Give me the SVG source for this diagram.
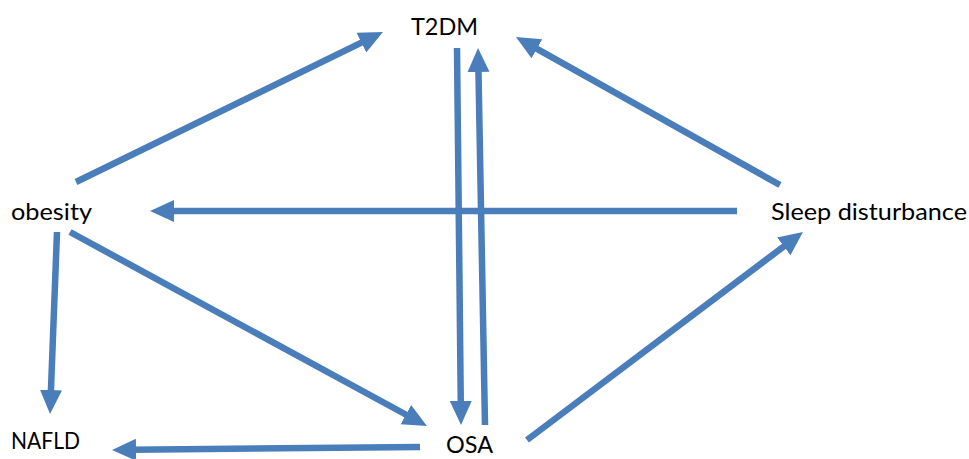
<svg xmlns="http://www.w3.org/2000/svg" width="969" height="459" viewBox="0 0 969 459">
<style>
.lbl{font-family:Lato,"Open Sans","Liberation Sans",sans-serif;font-size:24px;fill:#000}
.c{stroke:#4A7EBB;stroke-width:6.5;fill:none;marker-end:url(#ah)}
</style>
<defs>
<marker id="ah" markerUnits="userSpaceOnUse" markerWidth="26" markerHeight="24" refX="4" refY="11" orient="auto" viewBox="0 0 26 22">
<path d="M0,0 L24,11 L0,22 z" fill="#4A7EBB"/>
</marker>
</defs>
<rect width="969" height="459" fill="#fff"/>
<g id="connectors">
<line class="c" x1="76" y1="182" x2="365" y2="40.8"/>
<line class="c" x1="457" y1="48" x2="460.8" y2="405"/>
<line class="c" x1="485" y1="425" x2="478.4" y2="68"/>
<line class="c" x1="780" y1="185" x2="533.4" y2="46.8"/>
<line class="c" x1="737" y1="211" x2="170" y2="211"/>
<line class="c" x1="57" y1="232" x2="50.8" y2="394"/>
<line class="c" x1="70" y1="232" x2="409.4" y2="416.5"/>
<line class="c" x1="420" y1="447" x2="132" y2="449.8"/>
<line class="c" x1="527" y1="440" x2="787" y2="244"/>
</g>
<g id="T2DM"><text class="lbl" x="411" y="35" textLength="67" lengthAdjust="spacingAndGlyphs">T2DM</text></g>
<g id="obesity"><text class="lbl" x="11" y="220" textLength="81" lengthAdjust="spacingAndGlyphs">obesity</text></g>
<g id="sleep"><text class="lbl" x="771" y="220" textLength="196" lengthAdjust="spacingAndGlyphs">Sleep disturbance</text></g>
<g id="NAFLD"><text class="lbl" x="11" y="449" textLength="69" lengthAdjust="spacingAndGlyphs">NAFLD</text></g>
<g id="OSA"><text class="lbl" x="446" y="453" textLength="47" lengthAdjust="spacingAndGlyphs">OSA</text></g>
</svg>
